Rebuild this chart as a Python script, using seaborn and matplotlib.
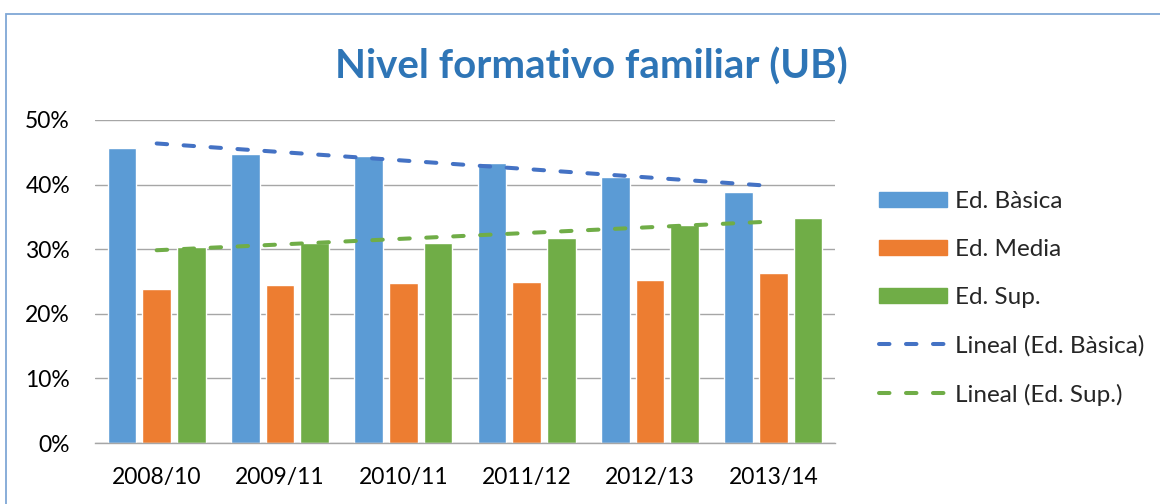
import numpy as np
import pandas as pd
import seaborn as sns
import matplotlib.pyplot as plt
from matplotlib.patches import Patch, Rectangle
from matplotlib.lines import Line2D
from matplotlib.ticker import PercentFormatter

# datos (en %)
cursos = ["2008/10", "2009/11", "2010/11", "2011/12", "2012/13", "2013/14"]
niveles = ["Ed. Bàsica", "Ed. Media", "Ed. Sup."]
basica = [45.7, 44.8, 44.5, 43.4, 41.1, 38.9]
media = [23.9, 24.4, 24.7, 24.9, 25.2, 26.3]
superior = [30.4, 30.9, 30.9, 31.7, 33.7, 34.8]

colores = ["#5B9BD5", "#ED7D31", "#70AD47"]
azul_tend = "#4472C4"
verde_tend = "#70AD47"

df = pd.DataFrame({
    "curso": cursos * 3,
    "nivel": [niveles[0]] * 6 + [niveles[1]] * 6 + [niveles[2]] * 6,
    "valor": basica + media + superior,
})

sns.set_theme(style="white")
plt.rcParams["font.family"] = ["Lato", "DejaVu Sans"]

fig = plt.figure(figsize=(11.6, 5.04), dpi=100)
ax = fig.add_axes([95 / 1160, 1 - 443 / 504, 740 / 1160, 323 / 504])

sns.barplot(data=df, x="curso", y="valor", hue="nivel", palette=colores,
            width=0.84, gap=0.17, saturation=1, legend=False, ax=ax)

# lineas de tendencia (ajuste lineal como en Excel)
pos = np.arange(len(cursos))
fit_b = np.polyval(np.polyfit(pos, basica, 1), pos)
fit_s = np.polyval(np.polyfit(pos, superior, 1), pos)
estilo = dict(lw=2.9, dashes=(2.6, 4.1), dash_capstyle="round")
ax.plot(pos, fit_b, color=azul_tend, **estilo)
ax.plot(pos, fit_s, color=verde_tend, **estilo)

ax.set_xlim(-0.5, len(cursos) - 0.5)
ax.set_ylim(0, 50)
ax.set_yticks(range(0, 51, 10))
ax.yaxis.set_major_formatter(PercentFormatter(xmax=100, decimals=0))
ax.yaxis.grid(True, color="#A6A6A6", lw=1)
ax.set_axisbelow(True)
for lado in ["top", "right", "left"]:
    ax.spines[lado].set_visible(False)
ax.spines["bottom"].set_color("#A6A6A6")
ax.spines["bottom"].set_linewidth(1)
ax.set_xlabel("")
ax.set_ylabel("")
ax.tick_params(axis="x", length=0, pad=17, labelsize=16.5, labelcolor="black")
ax.tick_params(axis="y", length=0, pad=18, labelsize=16.5, labelcolor="black")

fig.text(591 / 1160, 1 - 67 / 504, "Nivel formativo familiar (UB)", ha="center",
         va="center", fontsize=29, fontweight="bold", color="#2E75B6")

handles = [Patch(color=c) for c in colores] + [
    Line2D([], [], color=azul_tend, **estilo),
    Line2D([], [], color=verde_tend, **estilo),
]
labels = niveles + ["Lineal (Ed. Bàsica)", "Lineal (Ed. Sup.)"]
fig.legend(handles, labels, loc="upper left", bbox_to_anchor=(879 / 1160, 1 - 191 / 504),
           frameon=False, fontsize=17.5, borderpad=0, borderaxespad=0,
           handlelength=2.8, handleheight=0.62, handletextpad=0.33, labelspacing=1.11)

# marco del grafico
marco = Rectangle((6 / 1160, -0.1), 1.2, 1 - 14 / 504 + 0.1, transform=fig.transFigure,
                  fill=False, edgecolor="#7FA7D6", lw=1.3, clip_on=False)
fig.add_artist(marco)

fig.savefig("out.png", dpi=100)
